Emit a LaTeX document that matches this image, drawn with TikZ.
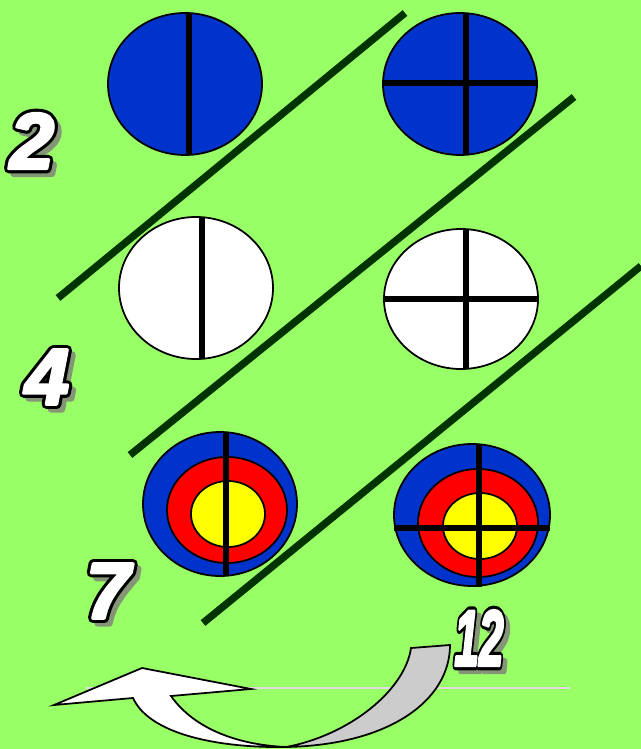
\documentclass[tikz,border=0pt]{standalone}
\usepackage{fontspec}
\setmainfont{Liberation Sans}
\usepackage{xcolor}
\usepackage{graphicx}
\usepackage{tikz}
\usetikzlibrary{positioning}
\definecolor{fieldgreen}{RGB}{153,255,102}
\definecolor{darkgreen}{RGB}{0,51,0}
\definecolor{tblue}{RGB}{0,51,204}
\definecolor{tred}{RGB}{255,0,0}
\definecolor{tyellow}{RGB}{255,255,0}
\definecolor{shade}{RGB}{132,150,118}
\definecolor{ribbon}{RGB}{204,204,204}
\definecolor{rule}{RGB}{221,221,221}
% heavy white digits with a black rim, and their grey shadow
\newcommand{\rimmed}[1]{\rlap{\special{pdf:literal 2 Tr 1 j 5.4 w 0 0 0 RG 0 0 0 rg}#1}%
  \special{pdf:literal 2 Tr 1 j 1.8 w 1 1 1 RG 1 1 1 rg}#1\special{pdf:literal 0 Tr}}
\newcommand{\shadowed}[1]{\special{pdf:literal 2 Tr 1 j 4 w 0.518 0.588 0.463 RG 0.518 0.588 0.463 rg}#1\special{pdf:literal 0 Tr}}
\tikzset{
  face/.style={draw=black, line width=1pt},
  hair/.style={line width=3.3pt},
  divider/.style={darkgreen, line width=4.2pt},
  num/.style={font=\fontsize{45}{45}\selectfont\bfseries\itshape, inner sep=0pt, text=white},
  numshadow/.style={font=\fontsize{45}{45}\selectfont\bfseries\itshape, inner sep=0pt, text=shade},
}
\begin{document}
\begin{tikzpicture}[x=0.02cm, y=-0.02cm]
  \useasboundingbox (0,0) rectangle (641,749);
  \fill[fieldgreen] (0,0) rectangle (641,749);

  % halves and quarters
  \draw[face, fill=tblue] (185,84) ellipse [x radius=77, y radius=71];
  \draw[hair] (189,13) -- (189,155);
  \draw[face, fill=tblue] (460,84) ellipse [x radius=77, y radius=71];
  \draw[hair] (466,13) -- (466,155);
  \draw[hair] (383,83) -- (537,83);

  \draw[face, fill=white] (196,288) ellipse [x radius=77, y radius=71];
  \draw[hair] (202,217) -- (202,359);
  \draw[face, fill=white] (461,299) ellipse [x radius=77, y radius=70];
  \draw[hair] (466,229) -- (466,369);
  \draw[hair] (384,299) -- (538,299);

  % targets
  \draw[face, fill=tblue] (220,504) ellipse [x radius=77, y radius=72];
  \draw[face, fill=tred] (227,510) ellipse [x radius=60, y radius=53];
  \draw[face, fill=tyellow] (228,514) ellipse [x radius=37, y radius=33];
  \draw[hair] (226,432) -- (226,576);
  \draw[face, fill=tblue] (472,515) ellipse [x radius=78, y radius=71];
  \draw[face, fill=tred] (478,523) ellipse [x radius=60, y radius=54];
  \draw[face, fill=tyellow] (480,526) ellipse [x radius=37, y radius=33];
  \draw[hair] (479,444) -- (479,587);
  \draw[hair] (394,528) -- (550,528);

  % dividers
  \draw[divider] (58,298) -- (405,13);
  \draw[divider] (130,455) -- (574,97);
  \draw[divider] (203,623) -- (641,266);

  % counts
  \node[numshadow] (s2) at (37,146) {\shadowed{2}};
  \node[num] (n2) at (32,141) {\rimmed{2}};
  \node[numshadow] (s4) at (52,382) {\shadowed{4}};
  \node[num] (n4) at (47,377) {\rimmed{4}};
  \node[numshadow] (s7) at (113,596) {\shadowed{7}};
  \node[num] (n7) at (108,591) {\rimmed{7}};
  \node[numshadow] (s12) at (484,643) {\scalebox{0.56}[1]{\shadowed{12}}};
  \node[num] (n12) at (479,638) {\scalebox{0.56}[1]{\rimmed{12}}};

  % turn-back arrow
  \draw[rule, line width=1.4pt] (86,688) -- (570,688);
  \draw[face, fill=ribbon] (286,747) .. controls (350,735) and (405,690) .. (411,648)
    -- (450,645) .. controls (450,700) and (390,745) .. (286,747) -- cycle;
  \draw[face, fill=white] (54,705) -- (142,668) -- (251,689) -- (171,696)
    .. controls (195,730) and (240,745) .. (286,747)
    .. controls (220,748) and (150,735) .. (133,698) -- cycle;
\end{tikzpicture}
\end{document}
